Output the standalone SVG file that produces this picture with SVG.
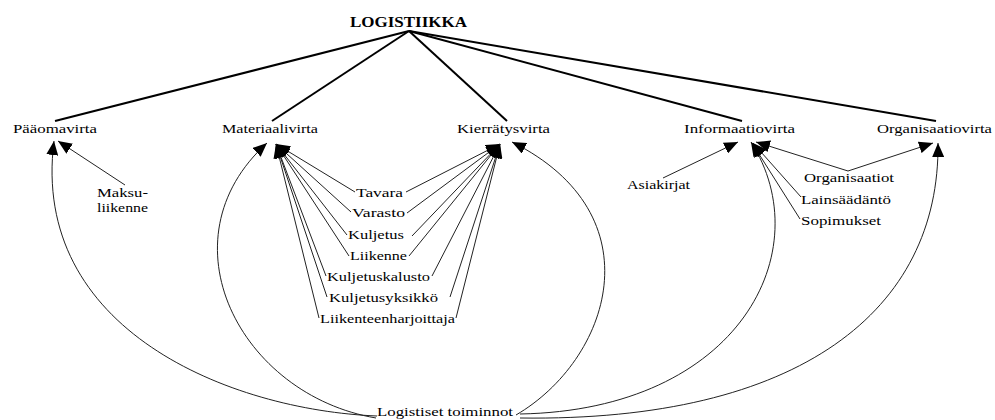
<svg xmlns="http://www.w3.org/2000/svg" width="995" height="420" viewBox="0 0 995 420">
<style>
.thick{stroke:#000;stroke-width:2;fill:none}
.thin{stroke:#222;stroke-width:1;fill:none;marker-end:url(#ah)}
</style>
<defs>
<marker id="ah" markerUnits="userSpaceOnUse" markerWidth="15" markerHeight="12" refX="14" refY="6" orient="auto">
<path d="M0,0 L14,6 L0,12 z" fill="#000"/>
</marker>
</defs>
<rect width="995" height="420" fill="#fff"/>
<g id="connectors">
<line class="thick" x1="409" y1="31" x2="55" y2="121"/>
<line class="thick" x1="409" y1="31" x2="272" y2="121"/>
<line class="thick" x1="409" y1="31" x2="507" y2="121"/>
<line class="thick" x1="409" y1="31" x2="742" y2="121"/>
<line class="thick" x1="409" y1="31" x2="936" y2="121"/>
<line class="thin" x1="125" y1="185" x2="58" y2="141"/>
<path class="thin" d="M377,416 C230,410 30,330 54,141"/>
<path class="thin" d="M376,418 C240,395 160,240 267,143"/>
<path class="thin" d="M516,415 C610,360 658,215 512,142"/>
<path class="thin" d="M520,414 C740,410 820,250 751,142"/>
<path class="thin" d="M520,418 C800,422 940,310 938,143"/>
<line class="thin" x1="355" y1="192" x2="276" y2="144"/>
<line class="thin" x1="351" y1="212" x2="276" y2="144"/>
<line class="thin" x1="347" y1="235" x2="276" y2="144"/>
<line class="thin" x1="349" y1="256" x2="276" y2="144"/>
<line class="thin" x1="326" y1="276" x2="276" y2="144"/>
<line class="thin" x1="327" y1="297" x2="276" y2="144"/>
<line class="thin" x1="319" y1="318" x2="276" y2="144"/>
<line class="thin" x1="406" y1="192" x2="500" y2="144"/>
<line class="thin" x1="407" y1="213" x2="500" y2="144"/>
<line class="thin" x1="412" y1="236" x2="500" y2="144"/>
<line class="thin" x1="409" y1="256" x2="500" y2="144"/>
<line class="thin" x1="432" y1="276" x2="500" y2="144"/>
<line class="thin" x1="450" y1="297" x2="500" y2="144"/>
<line class="thin" x1="456" y1="318" x2="500" y2="144"/>
<line class="thin" x1="663" y1="178" x2="738" y2="142"/>
<line class="thin" x1="848" y1="171" x2="756" y2="142"/>
<line class="thin" x1="848" y1="171" x2="933" y2="143"/>
<line class="thin" x1="801" y1="197" x2="753" y2="143"/>
<line class="thin" x1="800" y1="219" x2="752" y2="143"/>
</g>
<g font-family="Liberation Serif" font-size="13" fill="#000" lengthAdjust="spacingAndGlyphs">
<g id="logistiikka"><text font-family="Liberation Serif" font-size="14" font-weight="bold" x="350" y="27" textLength="117" lengthAdjust="spacingAndGlyphs">LOGISTIIKKA</text></g>
<g id="paaomavirta"><text font-family="Liberation Serif" x="13" y="133" textLength="84" lengthAdjust="spacingAndGlyphs">Pääomavirta</text></g>
<g id="materiaalivirta"><text font-family="Liberation Serif" x="222" y="133" textLength="96" lengthAdjust="spacingAndGlyphs">Materiaalivirta</text></g>
<g id="kierratysvirta"><text font-family="Liberation Serif" x="457" y="133" textLength="93" lengthAdjust="spacingAndGlyphs">Kierrätysvirta</text></g>
<g id="informaatiovirta"><text font-family="Liberation Serif" x="684" y="133" textLength="111" lengthAdjust="spacingAndGlyphs">Informaatiovirta</text></g>
<g id="organisaatiovirta"><text font-family="Liberation Serif" x="877" y="133" textLength="115" lengthAdjust="spacingAndGlyphs">Organisaatiovirta</text></g>
<g id="maksuliikenne">
<text font-family="Liberation Serif" x="97" y="197" textLength="51" lengthAdjust="spacingAndGlyphs">Maksu-</text>
<text font-family="Liberation Serif" x="97" y="212" textLength="51" lengthAdjust="spacingAndGlyphs">liikenne</text>
</g>
<g id="tavara"><text font-family="Liberation Serif" x="356" y="197" textLength="47" lengthAdjust="spacingAndGlyphs">Tavara</text></g>
<g id="varasto"><text font-family="Liberation Serif" x="352" y="217" textLength="53" lengthAdjust="spacingAndGlyphs">Varasto</text></g>
<g id="kuljetus"><text font-family="Liberation Serif" x="348" y="239" textLength="56" lengthAdjust="spacingAndGlyphs">Kuljetus</text></g>
<g id="liikenne"><text font-family="Liberation Serif" x="350" y="260" textLength="57" lengthAdjust="spacingAndGlyphs">Liikenne</text></g>
<g id="kuljetuskalusto"><text font-family="Liberation Serif" x="327" y="281" textLength="103" lengthAdjust="spacingAndGlyphs">Kuljetuskalusto</text></g>
<g id="kuljetusyksikko"><text font-family="Liberation Serif" x="329" y="302" textLength="109" lengthAdjust="spacingAndGlyphs">Kuljetusyksikkö</text></g>
<g id="liikenteenharjoittaja"><text font-family="Liberation Serif" x="320" y="323" textLength="135" lengthAdjust="spacingAndGlyphs">Liikenteenharjoittaja</text></g>
<g id="asiakirjat"><text font-family="Liberation Serif" x="627" y="189" textLength="63" lengthAdjust="spacingAndGlyphs">Asiakirjat</text></g>
<g id="organisaatiot"><text font-family="Liberation Serif" x="804" y="182" textLength="90" lengthAdjust="spacingAndGlyphs">Organisaatiot</text></g>
<g id="lainsaadanto"><text font-family="Liberation Serif" x="801" y="204" textLength="90" lengthAdjust="spacingAndGlyphs">Lainsäädäntö</text></g>
<g id="sopimukset"><text font-family="Liberation Serif" x="801" y="225" textLength="80" lengthAdjust="spacingAndGlyphs">Sopimukset</text></g>
<g id="logistiset"><text font-family="Liberation Serif" x="377" y="416" textLength="136" lengthAdjust="spacingAndGlyphs">Logistiset toiminnot</text></g>
</g>
</svg>
